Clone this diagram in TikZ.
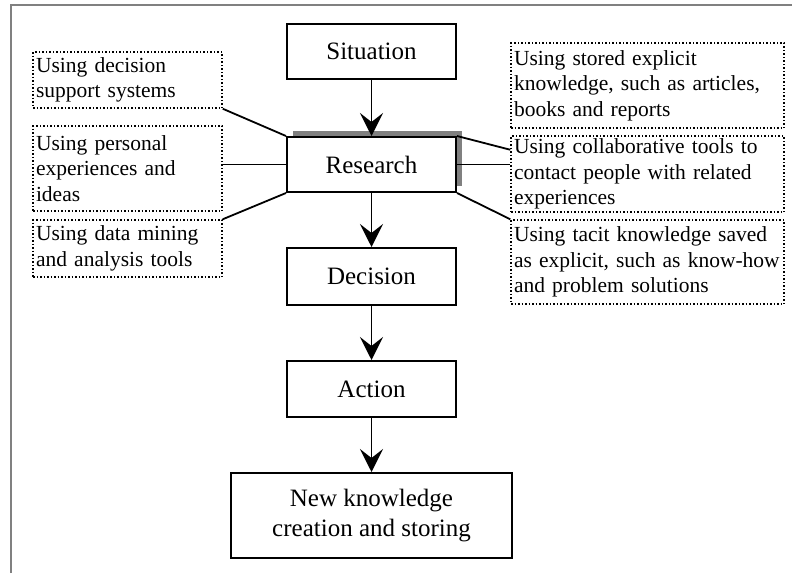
\documentclass[tikz,border=0pt]{standalone}
\usepackage{fontspec}
\setmainfont{Liberation Serif}
\usetikzlibrary{arrows.meta,shadows}
\begin{document}
\begin{tikzpicture}[x=1pt,y=-1pt,
  stagebox/.style={draw, line width=2pt, fill=white, minimum width=169pt,
    inner sep=2pt, align=center, font=\fontsize{25}{30}\selectfont},
  notebox/.style={draw, dotted, line width=1.5pt, inner xsep=3pt, inner ysep=0pt,
    align=left, font=\fontsize{21.5}{25.5}\selectfont},
  leftnote/.style={notebox, minimum width=189pt, text width=183pt},
  rightnote/.style={notebox, minimum width=273pt, text width=267pt},
  flow/.style={line width=1.7pt, -{Stealth[length=23pt, width=23pt, inset=9pt]}},
  link/.style={line width=1.8pt},
  raised/.style={general shadow={fill=gray, shadow xshift=6pt, shadow yshift=6pt}}]

\useasboundingbox (0,0) rectangle (792,573);
% page frame (top and left edges only)
\draw[gray, line width=2pt] (10.5,573) -- (10.5,4.5) -- (792,4.5);

% main sequence
\node[stagebox, minimum height=55pt] (sit) at (371.5,51.5) {Situation};
\node[stagebox, minimum height=55pt, raised] (res) at (371.5,164.5) {Research};
\node[stagebox, minimum height=57pt] (dec) at (371.5,276.5) {Decision};
\node[stagebox, minimum height=56pt] (act) at (371.5,389) {Action};
\node[stagebox, minimum width=281pt, minimum height=85pt] (new) at (371.5,515.5)
  {New knowledge\\creation and storing};

\draw[flow] (sit) -- (res);
\draw[flow] (res) -- (dec);
\draw[flow] (dec) -- (act);
\draw[flow] (act) -- (new);

% research sources, left side
\node[leftnote, minimum height=56pt] (l1) at (127.5,80)
  {Using decision\\support systems};
\node[leftnote, minimum height=85pt] (l2) at (127.5,168.5)
  {Using personal\\experiences and\\ideas};
\node[leftnote, minimum height=57pt] (l3) at (127.5,248.5)
  {Using data mining\\and analysis tools};

% research sources, right side
\node[rightnote, minimum height=85pt] (r1) at (647.5,85.5)
  {Using stored explicit\\\mbox{knowledge, such as articles,}\\books and reports};
\node[rightnote, minimum height=76pt] (r2) at (647.5,174)
  {\mbox{Using collaborative tools to}\\\mbox{contact people with related}\\experiences};
\node[rightnote, minimum height=84pt] (r3) at (647.5,262)
  {\mbox{Using tacit knowledge saved}\\\mbox{as explicit, such as know-how}\\and problem solutions};

\draw[link] (l1.south east) -- (res.north west);
\draw[link] (res.west) -- (res.west -| l2.east);
\draw[link] (l3.north east) -- (res.south west);
\draw[link] (res.north east) -- ([yshift=-21pt]r1.south west);
\draw[link] (res.east) -- (res.east -| r2.west);
\draw[link] (res.south east) -- (r3.north west);
\end{tikzpicture}
\end{document}
